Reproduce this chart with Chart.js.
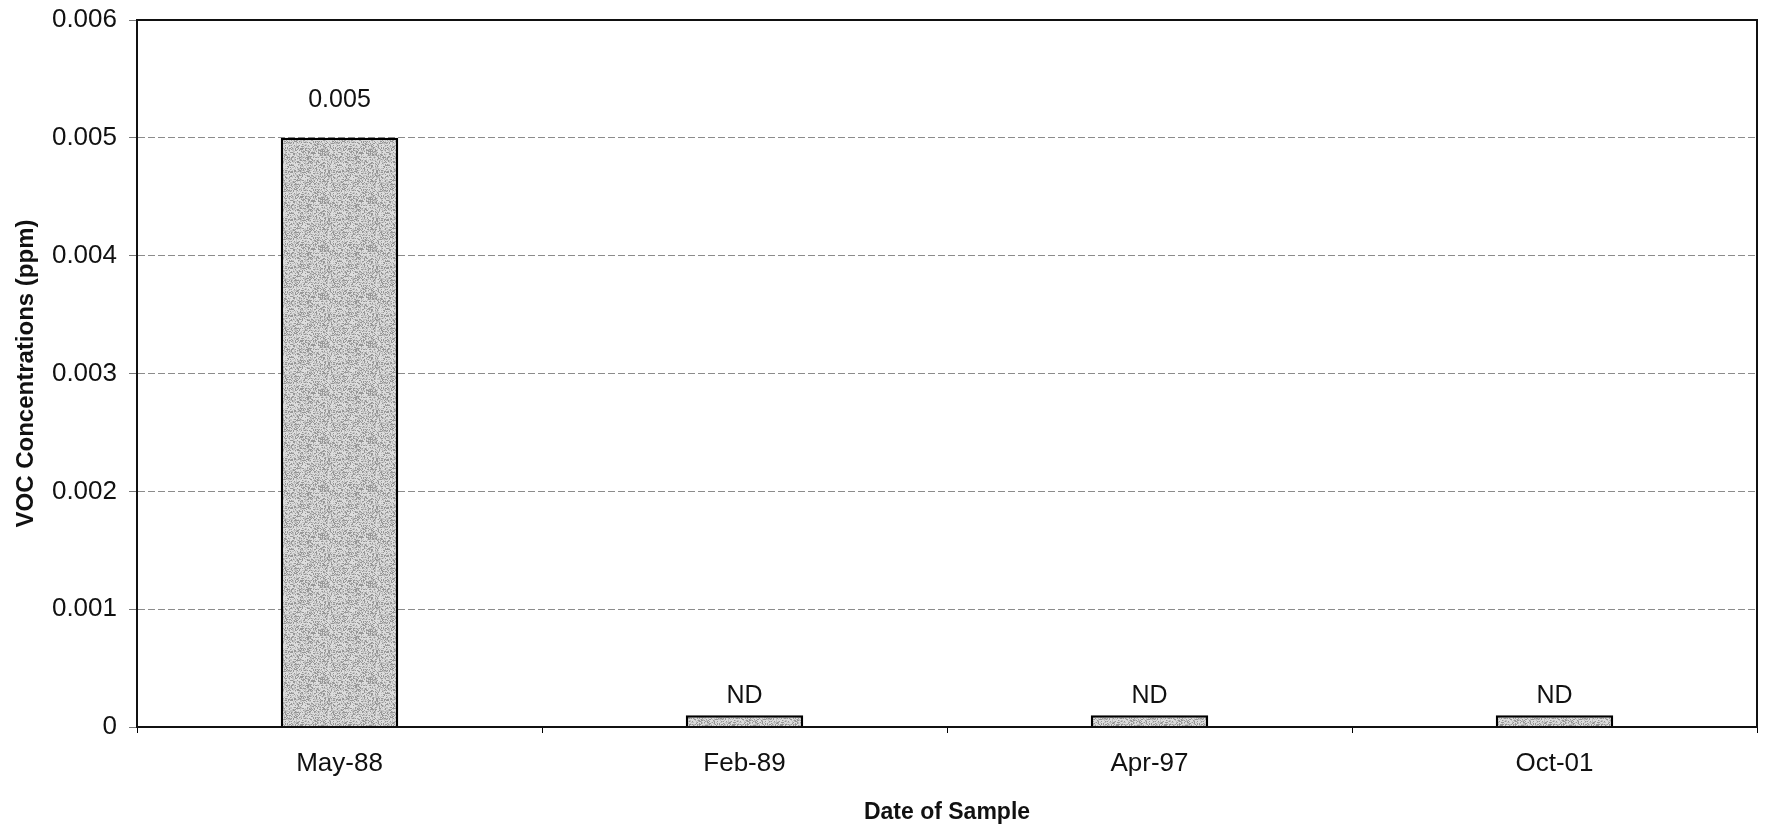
<!DOCTYPE html>
<html>
<head>
<meta charset="utf-8">
<title>VOC Concentrations</title>
<script src="https://cdn.jsdelivr.net/npm/chart.js@4.4.1/dist/chart.umd.min.js"></script>
<style>
  html, body { margin: 0; padding: 0; background: #fff; }
  #wrap { width: 1765px; height: 829px; }
</style>
</head>
<body>
<div id="wrap"><canvas id="mycanvas"></canvas></div>
<script>
// data
var dates = ['May-88', 'Feb-89', 'Apr-97', 'Oct-01'];
var voc = [0.005, 0.0001, 0.0001, 0.0001];   // ND samples drawn as a small stub
var barLabels = ['0.005', 'ND', 'ND', 'ND'];
var yTickLabels = ['0', '0.001', '0.002', '0.003', '0.004', '0.005', '0.006'];

var FONT = '"Liberation Sans", Arial, sans-serif';

// speckled grey fill like the original print
function speckle() {
    var c = document.createElement('canvas');
    c.width = 48; c.height = 48;
    var g = c.getContext('2d');
    var img = g.createImageData(48, 48);
    var s = 12345;
    for (var i = 0; i < 48 * 48; i++) {
        s = (s * 1103515245 + 12345) & 0x7fffffff;
        var r = (s >> 8) % 100;
        var v = r < 25 ? 150 : (r < 55 ? 190 : 220);
        img.data[i * 4] = v; img.data[i * 4 + 1] = v; img.data[i * 4 + 2] = v; img.data[i * 4 + 3] = 255;
    }
    g.putImageData(img, 0, 0);
    return g.createPattern(c, 'repeat');
}

var barText = {
    id: 'barText',
    afterDatasetsDraw: function(chart) {
        var ctx = chart.ctx;
        var meta = chart.getDatasetMeta(0);
        ctx.save();
        ctx.font = '25px ' + FONT;
        ctx.fillStyle = '#111';
        ctx.textAlign = 'center';
        ctx.textBaseline = 'bottom';
        meta.data.forEach(function(bar, i) {
            var gap = barLabels[i] === 'ND' ? 7 : 25;
            ctx.fillText(barLabels[i], bar.x, bar.y - gap);
        });
        ctx.restore();
    }
};

var plotBox = {
    id: 'plotBox',
    afterDraw: function(chart) {
        var a = chart.chartArea, ctx = chart.ctx;
        ctx.save();
        ctx.strokeStyle = '#111';
        ctx.lineWidth = 2;
        ctx.strokeRect(a.left, a.top, a.right - a.left, a.bottom - a.top);
        ctx.restore();
    }
};

new Chart(document.getElementById('mycanvas'), {
    type: 'bar',
    data: {
        labels: dates,
        datasets: [{
            data: voc,
            backgroundColor: speckle(),
            borderColor: '#000',
            borderWidth: 2.5,
            barPercentage: 0.29,
            categoryPercentage: 1
        }]
    },
    options: {
        responsive: true,
        maintainAspectRatio: false,
        animation: false,
        layout: { padding: { top: 20, right: 8, left: 0, bottom: 0 } },
        plugins: {
            legend: { display: false },
            tooltip: { enabled: false }
        },
        scales: {
            x: {
                grid: { drawOnChartArea: false, drawTicks: true, tickLength: 6, color: '#000', lineWidth: 1 },
                border: { display: true, color: '#000', width: 2 },
                ticks: { color: '#111', font: { family: FONT, size: 26 }, padding: 15, maxRotation: 0 },
                title: { display: true, text: 'Date of Sample', color: '#111',
                         font: { family: FONT, size: 23, weight: 'bold' }, padding: { top: 0, bottom: 3 } },
                afterFit: function(scale) { scale.height = 102; }
            },
            y: {
                min: 0,
                max: 0.006,
                ticks: {
                    stepSize: 0.001,
                    color: '#111',
                    padding: 12,
                    font: { family: FONT, size: 26, lineHeight: 0.5 },
                    callback: function(v, i) { return yTickLabels[i]; }
                },
                grid: { color: '#8c8c8c', lineWidth: 1, tickLength: 8, tickColor: '#777' },
                border: { display: true, color: '#000', width: 2, dash: [7, 3] },
                title: { display: true, text: 'VOC Concentrations (ppm)', color: '#111',
                         font: { family: FONT, size: 24, weight: 'bold' }, padding: { top: 12, bottom: 0 } },
                afterFit: function(scale) { scale.width = 137; }
            }
        }
    },
    plugins: [barText, plotBox]
});
</script>
</body>
</html>
